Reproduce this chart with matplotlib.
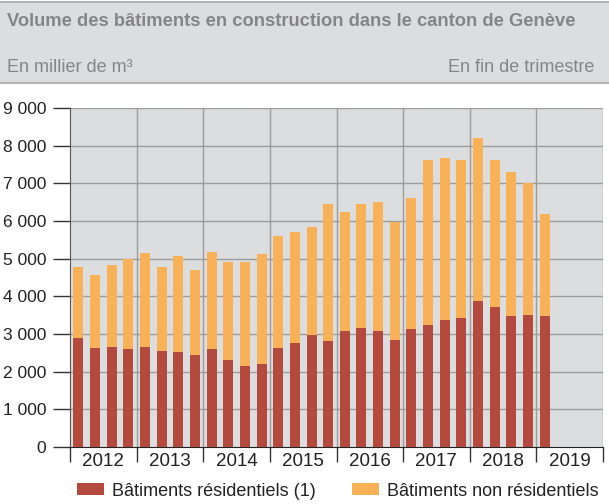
import numpy as np
import matplotlib.pyplot as plt
from matplotlib.patches import Rectangle

# Données trimestrielles, 2012 T1 à 2019 T1 (milliers de m3)
annees = ['2012', '2013', '2014', '2015', '2016', '2017', '2018', '2019']
residentiels = [2890, 2630, 2650, 2600, 2650, 2550, 2520, 2440,
                2600, 2310, 2150, 2200, 2630, 2760, 2970, 2810,
                3080, 3160, 3080, 2840, 3130, 3240, 3370, 3420,
                3870, 3710, 3470, 3500, 3470]
totaux = [4780, 4560, 4830, 4990, 5150, 4780, 5070, 4700,
          5170, 4910, 4910, 5120, 5600, 5700, 5840, 6450,
          6230, 6450, 6500, 5980, 6600, 7610, 7670, 7610,
          8200, 7610, 7290, 7000, 6180]
non_residentiels = [t - r for t, r in zip(totaux, residentiels)]

rouge = '#b44a3d'
orange = '#f9b157'
fond = '#dcdddf'
grille = '#9c9c9c'

plt.rcParams['font.family'] = ['Liberation Sans', 'DejaVu Sans']

fig = plt.figure(figsize=(6.09, 5.04), dpi=100)

# bandeau d'en-tête
fig.patches.append(Rectangle((0, 1 - 83/504), 1, 81/504, transform=fig.transFigure,
                             facecolor=fond, edgecolor='none', zorder=0))
fig.add_artist(plt.Line2D([0, 1], [1 - 2/504, 1 - 2/504], color='#a8a8a8', lw=1.2))
fig.add_artist(plt.Line2D([0, 1], [1 - 83/504, 1 - 83/504], color='#a8a8a8', lw=1.2))
fig.text(7/609, 1 - 21/504, 'Volume des bâtiments en construction dans le canton de Genève',
         fontsize=13.2, fontweight='bold', color='#858585', va='center', ha='left')
fig.text(7/609, 1 - 68/504, 'En millier de m³', fontsize=13, color='#858585',
         va='center', ha='left')
fig.text(594/609, 1 - 68/504, 'En fin de trimestre', fontsize=13, color='#858585',
         va='center', ha='right')

ax = fig.add_axes([70/609, 57/504, 533/609, 339/504])
ax.set_facecolor(fond)

x = np.arange(len(totaux))
ax.bar(x, residentiels, width=0.6, color=rouge, zorder=3, label='Bâtiments résidentiels (1)')
ax.bar(x, non_residentiels, width=0.6, bottom=residentiels, color=orange, zorder=3,
       label='Bâtiments non résidentiels')

ax.set_xlim(-0.5, 31.5)
ax.set_ylim(0, 9000)

yt = np.arange(0, 9001, 1000)
ax.set_yticks(yt)
ax.set_yticklabels([f'{v:,}'.replace(',', ' ') for v in yt])
ax.tick_params(axis='y', length=12, width=1, color='#333333', labelsize=12.5,
               labelcolor='#222222', pad=5)

bornes = np.arange(-0.5, 32, 4)
ax.set_xticks(bornes)
ax.set_xticklabels([])
ax.set_xticks(np.arange(1.5, 32, 4), minor=True)
ax.set_xticklabels(annees, minor=True)
ax.tick_params(axis='x', which='major', length=11, width=1, color='#333333')
ax.tick_params(axis='x', which='minor', length=0, labelsize=13.5, labelcolor='#222222', pad=4)

for v in yt[1:]:
    ax.axhline(v, color=grille, lw=1, zorder=1)
for b in bornes[1:]:
    ax.axvline(b, color=grille, lw=1, zorder=1)

for s in ['top', 'right']:
    ax.spines[s].set_visible(False)
ax.spines['left'].set_color('#555555')
ax.spines['bottom'].set_color('#222222')

fig.legend(loc='center left', bbox_to_anchor=(77/609, 1 - 491/504), ncol=2, frameon=False,
           fontsize=13, handlelength=1.5, handleheight=0.68, handletextpad=0.45,
           columnspacing=2.0, labelcolor='#222222', borderaxespad=0, borderpad=0)

fig.savefig('out.png', dpi=100)
